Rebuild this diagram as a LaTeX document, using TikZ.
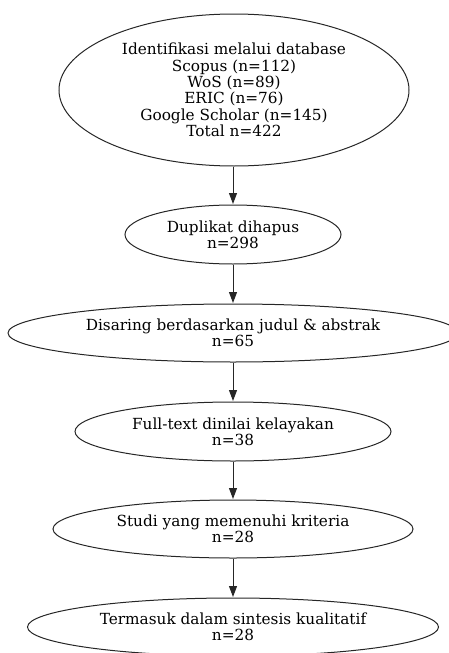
\documentclass[tikz,border=0pt]{standalone}
\usepackage{fontspec}
\setmainfont{DejaVu Serif}
\usetikzlibrary{shapes.geometric,arrows.meta}
\tikzset{
  stage/.style={ellipse, draw=black!85, line width=1pt, inner sep=0pt, align=center,
    font=\fontsize{15.3}{16.4}\selectfont, text=black},
  flow/.style={draw=black!85, line width=1pt, -{Triangle[length=11pt,width=8pt]}, shorten >=0.5pt}
}
\begin{document}
\begin{tikzpicture}[x=1pt,y=-1pt]
\useasboundingbox (0,0) rectangle (449,653);
\node[stage, minimum width=350pt, minimum height=152pt] (n1) at (234,90)
  {Identifikasi melalui database\\Scopus (n=112)\\WoS (n=89)\\ERIC (n=76)\\Google Scholar (n=145)\\Total n=422};
\node[stage, minimum width=216pt, minimum height=59pt] (n2) at (233,234.5) {Duplikat dihapus\\n=298};
\node[stage, minimum width=450pt, minimum height=58pt] (n3) at (233,333) {Disaring berdasarkan judul \& abstrak\\n=65};
\node[stage, minimum width=316pt, minimum height=59pt] (n4) at (233,431.5) {Full-text dinilai kelayakan\\n=38};
\node[stage, minimum width=360pt, minimum height=58pt] (n5) at (233,529) {Studi yang memenuhi kriteria\\n=28};
\node[stage, minimum width=411pt, minimum height=58pt] (n6) at (233,627) {Termasuk dalam sintesis kualitatif\\n=28};
\draw[flow] (n1.south -| n2.north) -- (n2.north);
\draw[flow] (n2) -- (n3);
\draw[flow] (n3) -- (n4);
\draw[flow] (n4) -- (n5);
\draw[flow] (n5) -- (n6);
\end{tikzpicture}
\end{document}
